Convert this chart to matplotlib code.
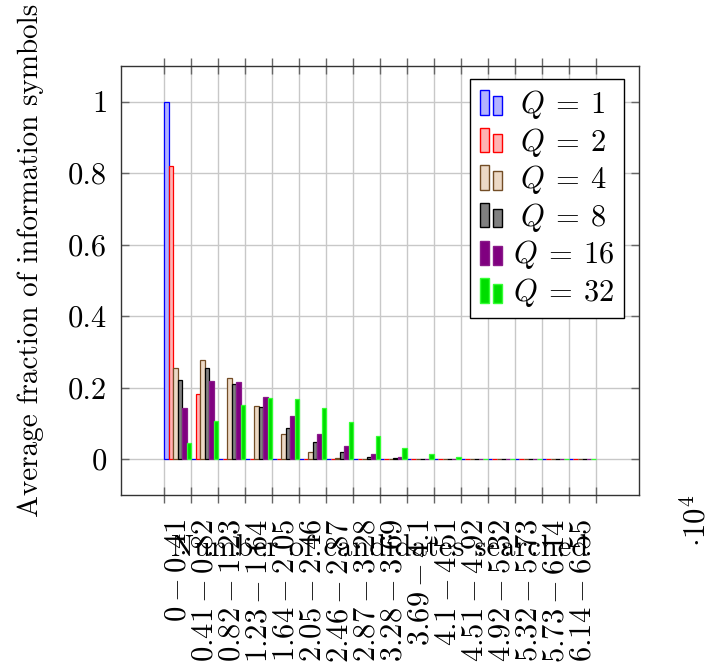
import matplotlib
matplotlib.use("Agg")
import matplotlib.pyplot as plt
import numpy as np
from matplotlib.legend_handler import HandlerBase
from matplotlib.patches import Rectangle

plt.rcParams['font.family'] = ['cmr10', 'DejaVu Serif']
plt.rcParams['mathtext.fontset'] = 'cm'
plt.rcParams['axes.formatter.use_mathtext'] = True
plt.rcParams['axes.unicode_minus'] = False

bin_labels = ["0 - 0.41", "0.41 - 0.82", "0.82 - 1.23", "1.23 - 1.64", "1.64 - 2.05",
              "2.05 - 2.46", "2.46 - 2.87", "2.87 - 3.28", "3.28 - 3.69", "3.69 - 4.1",
              "4.1 - 4.51", "4.51 - 4.92", "4.92 - 5.32", "5.32 - 5.73", "5.73 - 6.14",
              "6.14 - 6.55"]

q1 = [1.0, 0, 0, 0, 0, 0, 0, 0, 0, 0, 0, 0, 0, 0, 0, 0]
q2 = [0.819, 0.183, 0.002, 0, 0, 0, 0, 0, 0, 0, 0, 0, 0, 0, 0, 0]
q4 = [0.256, 0.277, 0.226, 0.149, 0.072, 0.020, 0.003, 0.001, 0, 0, 0, 0, 0, 0, 0, 0]
q8 = [0.221, 0.256, 0.211, 0.146, 0.088, 0.047, 0.021, 0.007, 0.004, 0.001, 0, 0, 0, 0, 0, 0]
q16 = [0.142, 0.219, 0.217, 0.175, 0.121, 0.072, 0.036, 0.015, 0.0065, 0.002, 0.001, 0.0005, 0, 0, 0, 0]
q32 = [0.045, 0.106, 0.151, 0.172, 0.169, 0.143, 0.104, 0.064, 0.0325, 0.014, 0.0055, 0.002,
       0.001, 0.0005, 0.0003, 0.0001]

series = [q1, q2, q4, q8, q16, q32]
names = [r"$\;Q\:=\:1\;\,$", r"$\;Q\:=\:2\;\,$", r"$\;Q\:=\:4\;\,$", r"$\;Q\:=\:8\;\,$",
         r"$Q\:=\:16\,$", r"$Q\:=\:32\,$"]
fills = ["#b3b3ff", "#ffb3b3", "#ecd9c6", "#808080", "#800080", "#00dd00"]
edges = ["#0000ff", "#ff0000", "#734d26", "#000000", "#8a1a8a", "#33ff33"]


class TwoBarHandler(HandlerBase):
    def create_artists(self, legend, orig_handle, xdescent, ydescent, width, height,
                       fontsize, trans):
        fc = orig_handle.get_facecolor()
        ec = orig_handle.get_edgecolor()
        w = width * 0.42
        x0 = -xdescent
        y0 = -ydescent
        r1 = Rectangle((x0, y0), w, height, facecolor=fc, edgecolor=ec, lw=1, transform=trans)
        r2 = Rectangle((x0 + width * 0.58, y0), w, height * 0.76, facecolor=fc, edgecolor=ec,
                       lw=1, transform=trans)
        return [r1, r2]


fig = plt.figure(figsize=(7.14, 6.68), dpi=100)
ax = fig.add_axes([121 / 714, 1 - 495 / 668, 518 / 714, 429 / 668])

n = len(bin_labels)
nb = len(series)
bw = 1.0 / nb
x = np.arange(n)
handles = []
for k, (vals, nm, fc, ec) in enumerate(zip(series, names, fills, edges)):
    b = ax.bar(x + (k + 0.5) * bw, vals, width=bw, facecolor=fc, edgecolor=ec,
               linewidth=0.9, label=nm, zorder=3)
    handles.append(b.patches[0])

ax.set_xlim(-1.6, n + 1.6)
ax.set_ylim(-0.1, 1.1)

ax.set_xticks(np.arange(n + 1))
ax.set_xticklabels([])
ax.set_xticks(x + 0.5, minor=True)
ax.set_xticklabels(["$" + s + "$" for s in bin_labels], minor=True, rotation=90, fontsize=22)
ax.tick_params(axis='x', which='major', direction='inout', length=12, width=1,
               color='#666666', top=True, bottom=True)
ax.tick_params(axis='x', which='minor', length=0, pad=17)

yt = [0, 0.2, 0.4, 0.6, 0.8, 1.0]
ax.set_yticks(yt)
ax.set_yticklabels(["0", "0.2", "0.4", "0.6", "0.8", "1"], fontsize=22)
ax.tick_params(axis='y', direction='in', length=6, width=1, color='#666666',
               left=True, right=True, pad=10)

ax.grid(True, which='major', color='#c8c8c8', linewidth=1, zorder=0)
ax.set_axisbelow(True)
for sp in ax.spines.values():
    sp.set_color('#333333')
    sp.set_linewidth(1)

ax.set_xlabel("Number of candidates searched", fontsize=22)
ax.xaxis.set_label_coords(0.5, (495 - 548) / 429)
ax.xaxis.label.set_va('center')
ax.set_ylabel("Average fraction of information symbols", fontsize=21)
ax.yaxis.set_label_coords((31 - 121) / 518, (495 - 260) / 429)
ax.yaxis.label.set_va('center')

fig.text(696 / 714, 1 - 521 / 668, r"$\cdot 10^{4}$", rotation=90, fontsize=22,
         ha='center', va='center')

leg = ax.legend(handles, names, loc='upper right', bbox_to_anchor=(0.971, 0.970),
                borderaxespad=0, fontsize=22, frameon=True, fancybox=False,
                edgecolor='black', framealpha=1, handlelength=0.75, handleheight=0.85,
                handletextpad=0.35, labelspacing=0.15, borderpad=0.3,
                handler_map={Rectangle: TwoBarHandler()})
leg.get_frame().set_linewidth(1)

fig.savefig("out.png", dpi=100)
